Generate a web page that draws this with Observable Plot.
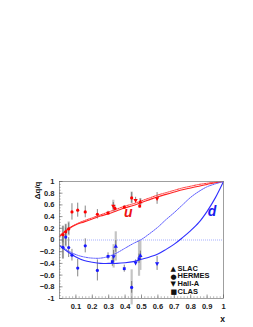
<!DOCTYPE html>
<html><head><meta charset="utf-8">
<script src="https://cdn.jsdelivr.net/npm/d3@7"></script>
<script src="https://cdn.jsdelivr.net/npm/@observablehq/plot@0.6"></script>
<style>html,body{margin:0;padding:0;background:#fff;}</style>
</head><body><div id="chart"></div>
<script>
// experiments
const experiments = ["SLAC", "HERMES", "Hall-A", "CLAS"];

// u quark points
const uX   = [0.021,0.038,0.056,0.076,0.111,0.157,0.231,0.296,0.328,0.338,0.395,0.44,0.464,0.489,0.493,0.595];
const uY   = [0.09,0.14,0.19,0.48,0.51,0.48,0.44,0.46,0.58,0.54,0.56,0.72,0.68,0.58,0.65,0.71];
const uErr = [0.14,0.12,0.10,0.14,0.12,0.10,0.08,0.03,0.06,0.05,0.03,0.09,0.05,0.04,0.05,0.10];
const uSys = [0.15,0.13,0.12,0,0,0,0,0,0.10,0,0,0.10,0,0,0.06,0];
const uExp = ["HERMES","HERMES","HERMES","HERMES","HERMES","HERMES","HERMES","CLAS","Hall-A","HERMES","CLAS","HERMES","Hall-A","CLAS","SLAC","Hall-A"];

// d quark points
const dX   = [0.021,0.038,0.056,0.076,0.111,0.157,0.231,0.296,0.322,0.33,0.343,0.395,0.44,0.464,0.485,0.493,0.595];
const dY   = [-0.125,0.05,-0.13,-0.26,-0.48,-0.10,-0.52,-0.28,-0.37,-0.28,-0.11,-0.49,-0.81,-0.39,-0.32,-0.27,-0.40];
const dErr = [0.20,0.15,0.17,0.10,0.15,0.12,0.18,0.06,0.08,0.10,0.10,0.06,0.10,0.05,0.08,0.08,0.12];
const dSys = [0.20,0.17,0,0,0,0,0,0,0,0.20,0.25,0,0.30,0,0.30,0.25,0];
const dExp = ["HERMES","HERMES","HERMES","HERMES","HERMES","HERMES","HERMES","CLAS","CLAS","Hall-A","SLAC","CLAS","HERMES","Hall-A","CLAS","SLAC","Hall-A"];

// model curves
const curveX      = [0,0.05,0.1,0.15,0.2,0.25,0.3,0.35,0.4,0.45,0.5,0.55,0.6,0.65,0.7,0.75,0.8,0.85,0.9,0.95,1];
const uSolid      = [0.06,0.18,0.26,0.31,0.36,0.41,0.45,0.50,0.55,0.59,0.64,0.69,0.74,0.78,0.82,0.86,0.89,0.92,0.95,0.98,1];
const uDashed     = [0.07,0.19,0.27,0.33,0.38,0.43,0.48,0.53,0.58,0.62,0.67,0.72,0.77,0.81,0.85,0.89,0.92,0.95,0.97,0.99,1];
const dSolid      = [-0.10,-0.20,-0.29,-0.35,-0.38,-0.40,-0.40,-0.40,-0.39,-0.37,-0.33,-0.29,-0.24,-0.16,-0.07,0.04,0.16,0.30,0.49,0.72,1];
const dDashed     = [-0.08,-0.18,-0.25,-0.29,-0.31,-0.31,-0.28,-0.22,-0.14,-0.06,0.01,0.11,0.22,0.35,0.47,0.60,0.73,0.83,0.91,0.96,1];

// tick labels
const xTicks = [0.1,0.2,0.3,0.4,0.5,0.6,0.7,0.8,0.9,1];
const yTicks = [-1,-0.8,-0.6,-0.4,-0.2,0,0.2,0.4,0.6,0.8,1];

// annotations
const labelText = ["u","d"];
const labelX = [0.42,0.93];
const labelY = [0.47,0.48];
const labelColor = ["#ee1111","#1a1aee"];

const uPts = uX.map((x,i)=>({x, y:uY[i], e:uErr[i], s:uSys[i], exp:uExp[i]}));
const dPts = dX.map((x,i)=>({x, y:dY[i], e:dErr[i], s:dSys[i], exp:dExp[i]}));
const pts = uPts.concat(dPts);
const sysPts = pts.filter(d=>d.s>0);
const uCurve = curveX.map((x,i)=>({x, y:uSolid[i]}));
const uCurveD = curveX.map((x,i)=>({x, y:uDashed[i]}));
const dCurve = curveX.map((x,i)=>({x, y:dSolid[i]}));
const dCurveD = curveX.map((x,i)=>({x, y:dDashed[i]}));
const labels = labelText.map((t,i)=>({t, x:labelX[i], y:labelY[i], c:labelColor[i]}));

const triDown = {draw(ctx, size){ const s=Math.sqrt(size/ (Math.sqrt(3)/4)); const h=s*Math.sqrt(3)/2; ctx.moveTo(0,h*2/3); ctx.lineTo(s/2,-h/3); ctx.lineTo(-s/2,-h/3); ctx.closePath(); }};

const ML=59, MR=30, MT=181, MB=29, W=253, H=327;
const FW=W-ML-MR, FH=H-MT-MB;
const fmt = d => d===1? "1" : d===-1 ? "-1" : d===0 ? "0" : d3.format(".1f")(d);

const chart = Plot.plot({
  width: W, height: H,
  marginLeft: ML, marginRight: MR, marginTop: MT, marginBottom: MB,
  style: {fontFamily: "'Liberation Sans', Arial, sans-serif", fontWeight: "bold", fontSize: "7.5px", background: "#fff", overflow: "visible"},
  x: {domain: [0,1]},
  y: {domain: [-1,1]},
  symbol: {domain: experiments, range: ["triangle", "circle", triDown, "square"]},
  marks: [
    Plot.axisX({ticks: xTicks, tickFormat: fmt, tickSize: 0, tickPadding: 5, label: null, fill: "#222"}),
    Plot.axisY({ticks: yTicks, tickFormat: fmt, tickSize: 0, tickPadding: 5, label: null, fill: "#222"}),
    Plot.ruleY([0], {stroke: "#8f9cff", strokeWidth: 1, strokeOpacity: 0.8, strokeDasharray: "1,1"}),
    // systematic bars
    Plot.ruleX(sysPts, {x: "x", y1: d=>d.y-d.s, y2: d=>d.y+d.s, stroke: "#c4c4c4", strokeWidth: 2.2}),
    // statistical bars
    Plot.ruleX(pts, {x: "x", y1: d=>d.y-d.e, y2: d=>d.y+d.e, stroke: "#666", strokeWidth: 0.8}),
    // curves
    Plot.line(uCurveD, {x: "x", y: "y", curve: "catmull-rom", stroke: "#ff3333", strokeWidth: 1, strokeDasharray: "1.5,1"}),
    Plot.line(uCurve, {x: "x", y: "y", curve: "catmull-rom", stroke: "#ff2222", strokeWidth: 1.1}),
    Plot.line(dCurveD, {x: "x", y: "y", curve: "catmull-rom", stroke: "#4a4aff", strokeWidth: 0.9, strokeDasharray: "1.5,1"}),
    Plot.line(dCurve, {x: "x", y: "y", curve: "catmull-rom", stroke: "#2f2fff", strokeWidth: 1.1}),
    // points
    Plot.dot(uPts, {x: "x", y: "y", symbol: "exp", fill: "#ff0000", stroke: "none", r: 1.6}),
    Plot.dot(dPts, {x: "x", y: "y", symbol: "exp", fill: "#1a1aff", stroke: "none", r: 1.6}),
    // u / d labels
    Plot.text(labels, {x: "x", y: "y", text: "t", fill: "c", fontSize: 14, fontWeight: "bold", fontStyle: "italic"}),
    // frame
    Plot.frame({stroke: "#888", strokeWidth: 0.8}),
    // inward ticks
    Plot.tickX(xTicks, {x: d=>d, stroke: "#555", strokeWidth: 0.6, insetTop: FH-3.5}),
    Plot.tickX(d3.range(0.02, 1, 0.02), {x: d=>d, stroke: "#777", strokeWidth: 0.5, insetTop: FH-1.8}),
    Plot.tickY(yTicks, {y: d=>d, stroke: "#555", strokeWidth: 0.6, insetRight: FW-3.5}),
    Plot.tickY(d3.range(-0.95, 1, 0.05), {y: d=>d, stroke: "#777", strokeWidth: 0.5, insetRight: FW-1.8}),
    // legend
    Plot.text([experiments.join("\n")], {frameAnchor: "top-left", dx: 118, dy: 83.5, text: d=>d, textAnchor: "start", lineAnchor: "top", lineHeight: 1.03, fill: "#111", fontSize: 7.5}),
    Plot.text(["▲\n●\n▼\n■"], {frameAnchor: "top-left", dx: 111, dy: 84, text: d=>d, textAnchor: "start", lineAnchor: "top", lineHeight: 1.1, fill: "#111", fontSize: 7, fontFamily: "DejaVu Sans"}),
    // axis titles
    Plot.text(["Δq/q"], {frameAnchor: "top-left", dx: -22, dy: 0, rotate: -90, textAnchor: "end", lineAnchor: "middle", fontSize: 8, fill: "#111"}),
    Plot.text(["x"], {frameAnchor: "bottom-right", dx: -1, dy: 21, textAnchor: "middle", lineAnchor: "middle", fontSize: 8.5, fill: "#111"})
  ]
});
document.getElementById("chart").appendChild(chart);
</script>
</body></html>
